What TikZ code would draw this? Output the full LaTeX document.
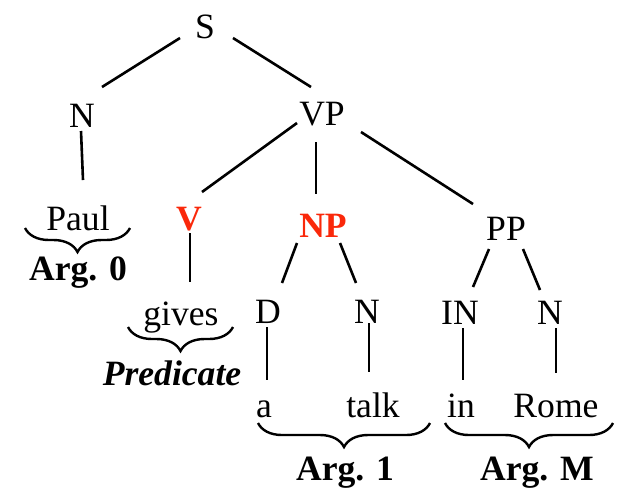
\documentclass[tikz,border=0pt]{standalone}
\usepackage{fontspec}
\setmainfont{Liberation Serif}
\usetikzlibrary{calc,decorations.pathreplacing}
\definecolor{headred}{RGB}{250,40,10}

\begin{document}
\begin{tikzpicture}[x=0.5pt, y=-0.5pt,
    every node/.style={inner sep=0pt, text height=12pt, text depth=0pt,
      font=\fontsize{17.8pt}{20pt}\selectfont},
    head/.style={text=headred, font=\fontsize{17.8pt}{20pt}\selectfont\bfseries},
    role/.style={font=\fontsize{17.8pt}{20pt}\selectfont\bfseries},
    edge/.style={line width=1.3pt},
    under/.style={line width=1.2pt, decorate,
      decoration={brace, mirror, amplitude=12pt}}]
    \useasboundingbox (0,0) rectangle (619,489);
    % tree labels
    \node (S) at (205,26) {S};
    \node (N0) at (82,115) {N};
    \node (VP) at (322,113) {VP};
    \node (Paul) at (78,218) {Paul};
    \node[head] (V) at (189,218) {V};
    \node[head] (NP) at (323,225) {NP};
    \node (PP) at (506,228) {PP};
    \node (gives) at (181,313) {gives};
    \node (D) at (268,311) {D};
    \node (N1) at (367,311) {N};
    \node (IN) at (460,312) {IN};
    \node (N2) at (550,312) {N};
    \node (a) at (264,405) {a};
    \node (talk) at (373,405) {talk};
    \node (in) at (461,405) {in};
    \node (Rome) at (556,405) {Rome};
    % branches
    \draw[edge] ($(S)+(-25,12)$) -- ($(N0)+(20,-28)$);
    \draw[edge] ($(S)+(28,12)$) -- ($(VP)+(-11,-26)$);
    \draw[edge] ($(N0)+(-1,16)$) -- ($(Paul)+(5,-38)$);
    \draw[edge] ($(VP)+(-25,10)$) -- ($(V)+(13,-26)$);
    \draw[edge] ($(VP)+(-6,29)$) -- ($(NP)+(-7,-31)$);
    \draw[edge] ($(VP)+(39,19)$) -- ($(PP)+(-33,-24)$);
    \draw[edge] ($(V)+(1,15)$) -- ($(gives)+(9,-31)$);
    \draw[edge] ($(NP)+(-26,18)$) -- ($(D)+(14,-28)$);
    \draw[edge] ($(NP)+(17,18)$) -- ($(N1)+(-11,-28)$);
    \draw[edge] ($(PP)+(-17,21)$) -- ($(IN)+(13,-25)$);
    \draw[edge] ($(PP)+(17,21)$) -- ($(N2)+(-10,-22)$);
    \draw[edge] ($(D)+(-1,16)$) -- ($(a)+(3,-25)$);
    \draw[edge] ($(N1)+(2,12)$) -- ($(talk)+(-4,-33)$);
    \draw[edge] ($(IN)+(3,16)$) -- ($(in)+(2,-25)$);
    \draw[edge] ($(N2)+(6,16)$) -- ($(Rome)+(0,-32)$);
    % argument braces
    \draw[under] (25,228) -- (130,228);
    \draw[under] (128,327) -- (233,327);
    \draw[under] (258,423) -- (430,423);
    \draw[under] (445,423) -- (613,423);
    \node[role] (arg0) at (78,268) {Arg. 0};
    \node[role] (pred) at (172,373) {\itshape Predicate};
    \node[role] (arg1) at (345,468) {Arg. 1};
    \node[role] (argM) at (537,468) {Arg. M};
\end{tikzpicture}
\end{document}
